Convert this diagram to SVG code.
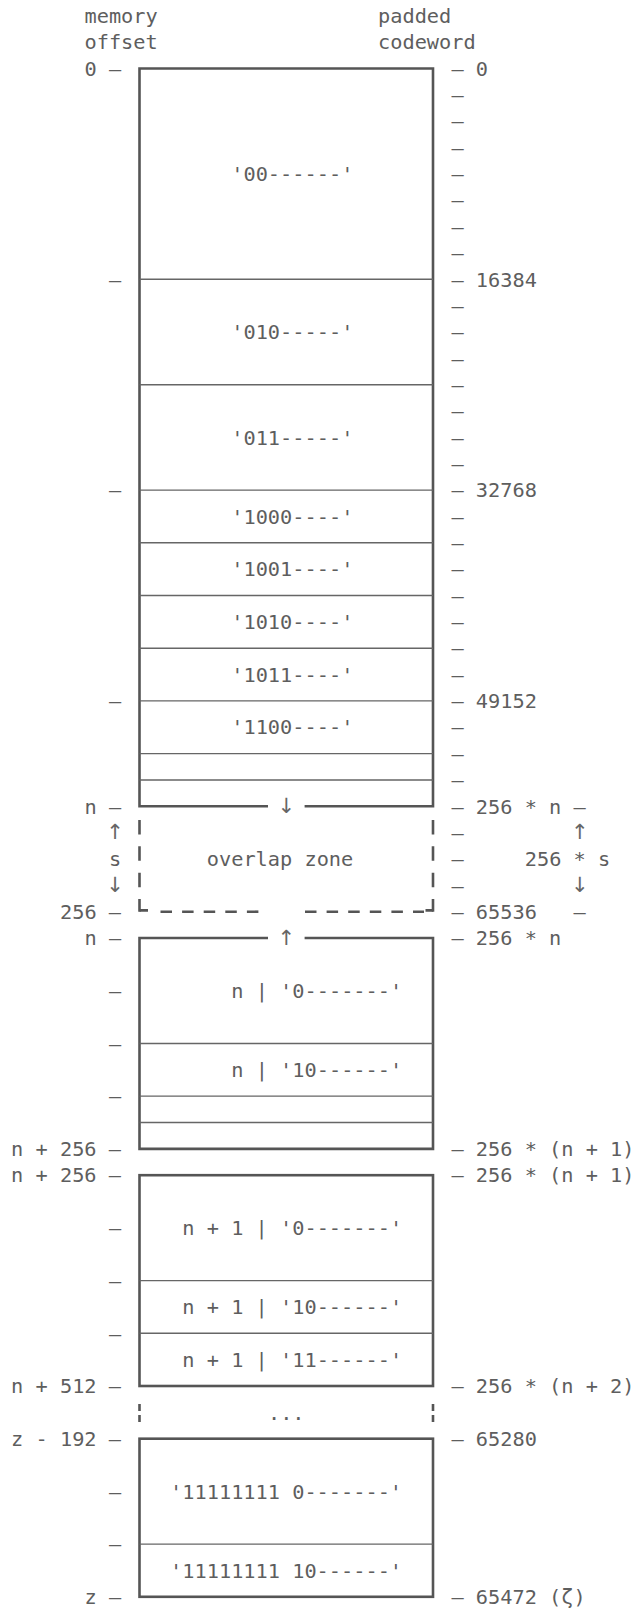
<svg xmlns="http://www.w3.org/2000/svg" width="636" height="1610" viewBox="0 0 636 1610">
<style>
.t{font-family:"DejaVu Sans Mono","Liberation Mono",monospace;font-size:20.3px;fill:#5e5e5e;white-space:pre}
.a{font-family:"DejaVu Sans","Liberation Sans",sans-serif;font-size:21px;fill:#666;text-anchor:middle}
.hv{stroke:#555;stroke-width:2.6;fill:none;stroke-linejoin:miter;stroke-linecap:butt}
.th{stroke:#666;stroke-width:1.4;fill:none}
.dv{stroke:#555;stroke-width:2.6;fill:none;stroke-dasharray:14.5 11.85}
.dh{stroke:#555;stroke-width:2.6;fill:none;stroke-dasharray:11.5 10.1}
</style>
<rect width="636" height="1610" fill="#fff"/>

<g id="header">
<text class="t" x="84.48" y="23">memory</text>
<text class="t" x="84.48" y="49.35">offset</text>
<text class="t" x="378" y="23">padded</text>
<text class="t" x="378" y="49.35">codeword</text>
</g>

<g id="axis-left">
<text class="t" x="84.48" y="75.7" xml:space="preserve">0 —</text>
<text class="t" x="108.94" y="286.5">—</text>
<text class="t" x="108.94" y="497.3">—</text>
<text class="t" x="108.94" y="708.1">—</text>
<text class="t" x="84.48" y="813.5" xml:space="preserve">n —</text>
<text class="a" x="115.05" y="839.3">↑</text>
<text class="t" x="108.94" y="866.2">s</text>
<text class="a" x="115.05" y="891.5">↓</text>
<text class="t" x="60.02" y="918.9" xml:space="preserve">256 —</text>
<text class="t" x="84.48" y="945.25" xml:space="preserve">n —</text>
<text class="t" x="108.94" y="997.95">—</text>
<text class="t" x="108.94" y="1050.65">—</text>
<text class="t" x="108.94" y="1103.35">—</text>
<text class="t" x="11.1" y="1156.05" xml:space="preserve">n + 256 —</text>
<text class="t" x="11.1" y="1182.4" xml:space="preserve">n + 256 —</text>
<text class="t" x="108.94" y="1235.1">—</text>
<text class="t" x="108.94" y="1287.8">—</text>
<text class="t" x="108.94" y="1340.5">—</text>
<text class="t" x="11.1" y="1393.2" xml:space="preserve">n + 512 —</text>
<text class="t" x="11.1" y="1445.9" xml:space="preserve">z - 192 —</text>
<text class="t" x="108.94" y="1498.6">—</text>
<text class="t" x="108.94" y="1551.3">—</text>
<text class="t" x="84.48" y="1604" xml:space="preserve">z —</text>
</g>

<g id="axis-right">
<text class="t" x="451.38" y="75.7" xml:space="preserve">— 0</text>
<text class="t" x="451.38" y="102.05">—</text>
<text class="t" x="451.38" y="128.4">—</text>
<text class="t" x="451.38" y="154.75">—</text>
<text class="t" x="451.38" y="181.1">—</text>
<text class="t" x="451.38" y="207.45">—</text>
<text class="t" x="451.38" y="233.8">—</text>
<text class="t" x="451.38" y="260.15">—</text>
<text class="t" x="451.38" y="286.5" xml:space="preserve">— 16384</text>
<text class="t" x="451.38" y="312.85">—</text>
<text class="t" x="451.38" y="339.2">—</text>
<text class="t" x="451.38" y="365.55">—</text>
<text class="t" x="451.38" y="391.9">—</text>
<text class="t" x="451.38" y="418.25">—</text>
<text class="t" x="451.38" y="444.6">—</text>
<text class="t" x="451.38" y="470.95">—</text>
<text class="t" x="451.38" y="497.3" xml:space="preserve">— 32768</text>
<text class="t" x="451.38" y="523.65">—</text>
<text class="t" x="451.38" y="550">—</text>
<text class="t" x="451.38" y="576.35">—</text>
<text class="t" x="451.38" y="602.7">—</text>
<text class="t" x="451.38" y="629.05">—</text>
<text class="t" x="451.38" y="655.4">—</text>
<text class="t" x="451.38" y="681.75">—</text>
<text class="t" x="451.38" y="708.1" xml:space="preserve">— 49152</text>
<text class="t" x="451.38" y="734.45">—</text>
<text class="t" x="451.38" y="760.8">—</text>
<text class="t" x="451.38" y="787.15">—</text>
<text class="t" x="451.38" y="813.5" xml:space="preserve">— 256 * n —</text>
<text class="t" x="451.38" y="839.85">—</text>
<text class="a" x="579.8" y="839.3">↑</text>
<text class="t" x="451.38" y="866.2">—</text>
<text class="t" x="524.76" y="866.2" xml:space="preserve">256 * s</text>
<text class="t" x="451.38" y="892.55">—</text>
<text class="a" x="579.8" y="891.5">↓</text>
<text class="t" x="451.38" y="918.9" xml:space="preserve">— 65536   —</text>
<text class="t" x="451.38" y="945.25" xml:space="preserve">— 256 * n</text>
<text class="t" x="451.38" y="1156.05" xml:space="preserve">— 256 * (n + 1)</text>
<text class="t" x="451.38" y="1182.4" xml:space="preserve">— 256 * (n + 1)</text>
<text class="t" x="451.38" y="1393.2" xml:space="preserve">— 256 * (n + 2)</text>
<text class="t" x="451.38" y="1445.9" xml:space="preserve">— 65280</text>
<text class="t" x="451.38" y="1604" xml:space="preserve">— 65472 (ζ)</text>
</g>

<g id="block-a">
<path class="hv" d="M268,806.3 H139.5 V68.5 H433 V806.3 H304.6"/>
<path class="th" d="M139.5,279.3H433 M139.5,384.7H433 M139.5,490.1H433 M139.5,542.8H433 M139.5,595.5H433 M139.5,648.2H433 M139.5,700.9H433 M139.5,753.6H433 M139.5,779.95H433"/>
<text class="t" x="231.24" y="181.1">'00------'</text>
<text class="t" x="231.24" y="339.2">'010-----'</text>
<text class="t" x="231.24" y="444.6">'011-----'</text>
<text class="t" x="231.24" y="523.65">'1000----'</text>
<text class="t" x="231.24" y="576.35">'1001----'</text>
<text class="t" x="231.24" y="629.05">'1010----'</text>
<text class="t" x="231.24" y="681.75">'1011----'</text>
<text class="t" x="231.24" y="734.45">'1100----'</text>
<text class="a" x="286.3" y="812.5">↓</text>
</g>

<g id="overlap-zone">
<path class="dv" d="M139.5,820 V911.7 M433,820 V911.7"/>
<path class="hv" d="M139.5,910.4 H148 M425.5,910.4 H433"/>
<path class="dh" d="M160.5,911.7 H260"/>
<path class="dh" d="M305,911.7 H424"/>
<text class="t" x="206.78" y="866.2">overlap zone</text>
</g>

<g id="block-b">
<path class="hv" d="M268,938.05 H139.5 V1148.85 H433 V938.05 H304.6"/>
<path class="th" d="M139.5,1043.45H433 M139.5,1096.15H433 M139.5,1122.5H433"/>
<text class="a" x="286.3" y="944.7">↑</text>
<text class="t" x="231.24" y="997.95" xml:space="preserve">n | '0-------'</text>
<text class="t" x="231.24" y="1077" xml:space="preserve">n | '10------'</text>
</g>

<g id="block-c">
<rect class="hv" x="139.5" y="1175.2" width="293.5" height="210.8"/>
<path class="th" d="M139.5,1280.6H433 M139.5,1333.3H433"/>
<text class="t" x="182.32" y="1235.1" xml:space="preserve">n + 1 | '0-------'</text>
<text class="t" x="182.32" y="1314.15" xml:space="preserve">n + 1 | '10------'</text>
<text class="t" x="182.32" y="1366.85" xml:space="preserve">n + 1 | '11------'</text>
</g>

<g id="gap">
<path class="hv" d="M139.5,1404V1411 M139.5,1415V1422 M433,1404V1411 M433,1415V1422"/>
<text class="t" x="267.93" y="1419.55">...</text>
</g>

<g id="block-d">
<rect class="hv" x="139.5" y="1438.7" width="293.5" height="158.1"/>
<path class="th" d="M139.5,1544.1H433"/>
<text class="t" x="170.09" y="1498.6" xml:space="preserve">'11111111 0-------'</text>
<text class="t" x="170.09" y="1577.65" xml:space="preserve">'11111111 10------'</text>
</g>

<g id="connectors"></g>
</svg>
